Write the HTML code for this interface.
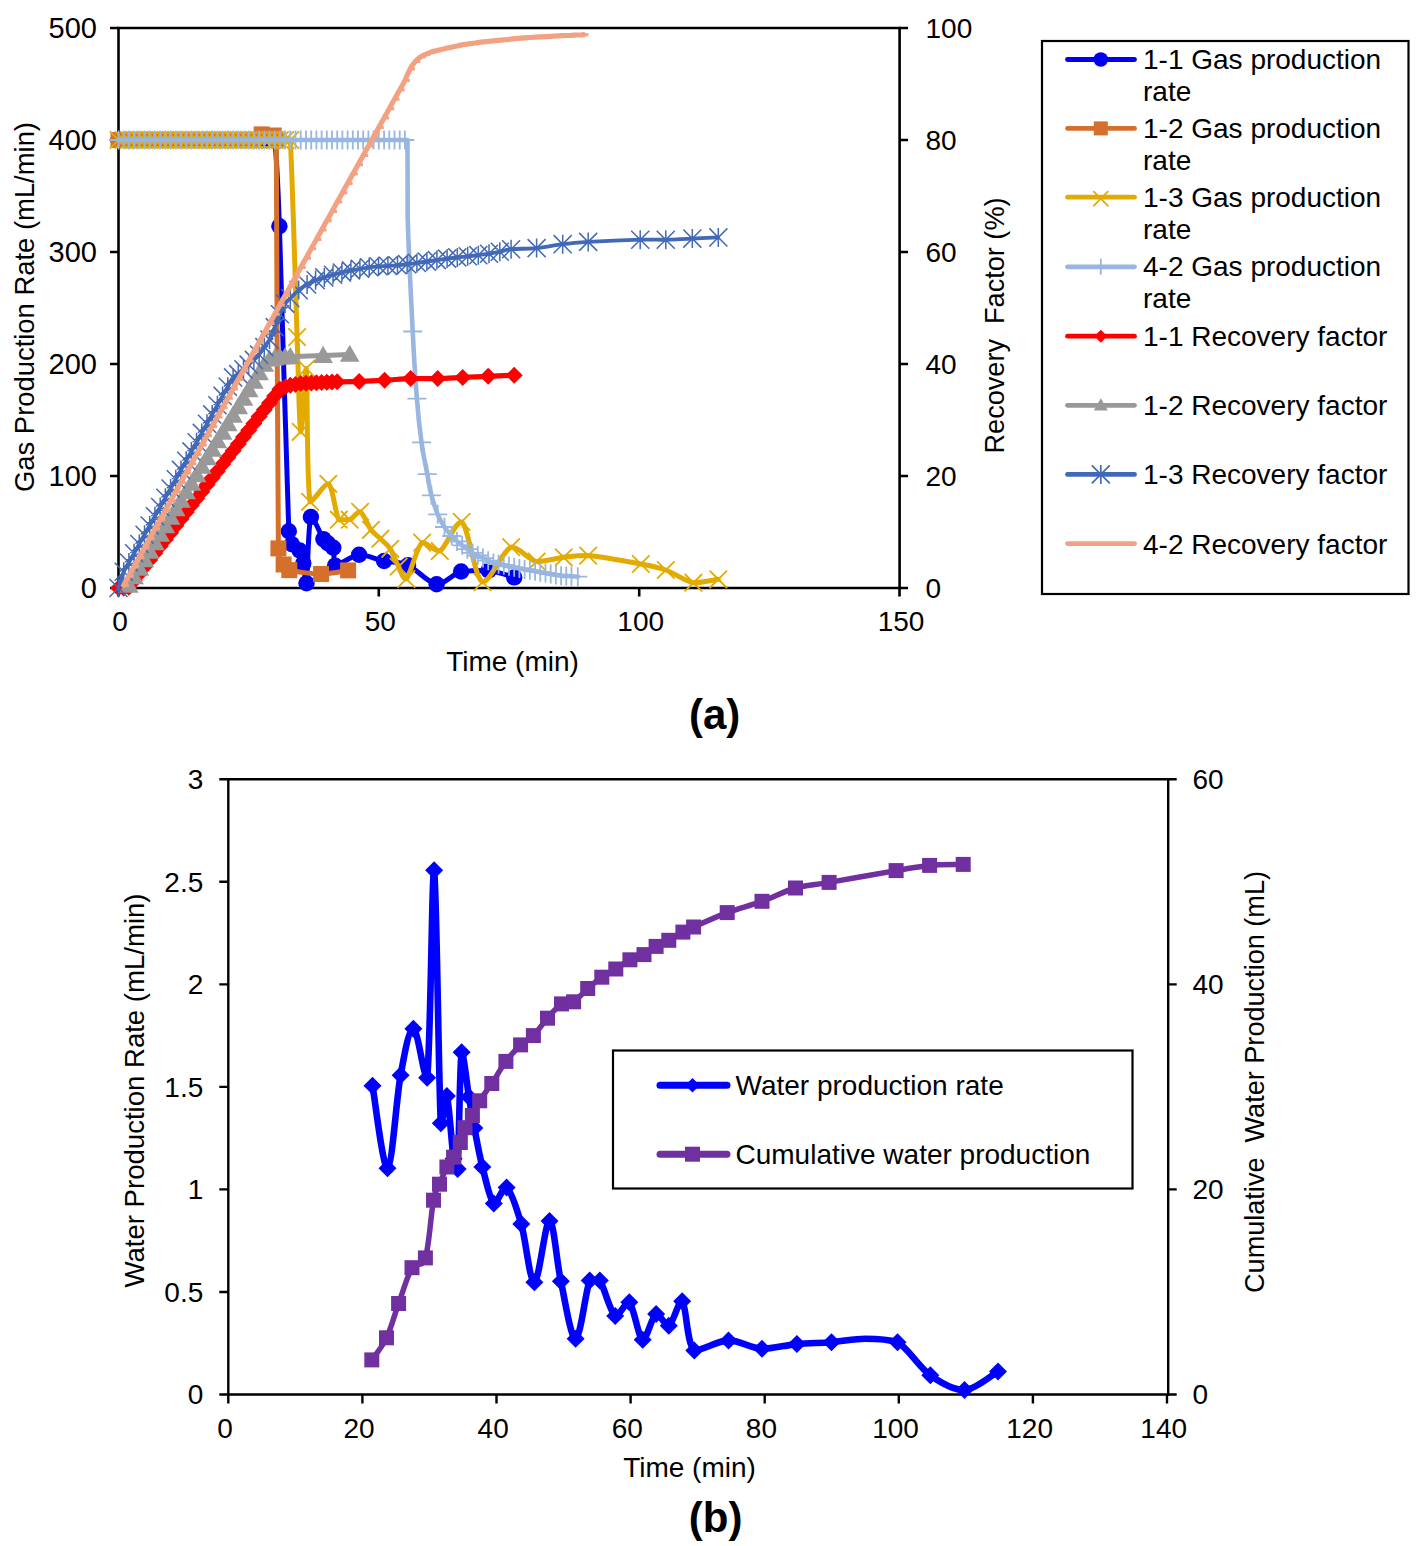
<!DOCTYPE html>
<html><head><meta charset="utf-8"><style>
html,body{margin:0;padding:0;background:#fff;}
body{width:1417px;height:1546px;position:relative;overflow:hidden;font-family:"Liberation Sans",sans-serif;}
svg text{white-space:pre;}
</style></head><body>
<svg width="1417" height="1546" viewBox="0 0 1417 1546" style="position:absolute;left:0;top:0">
<g stroke="#000" stroke-width="2.6" fill="none" stroke-linecap="butt">
<path d="M118.5 28.0H899.6V588.0H118.5Z"/>
<path d="M110 588H118.5M899.6 588H908.1M110 476H118.5M899.6 476H908.1M110 364H118.5M899.6 364H908.1M110 252H118.5M899.6 252H908.1M110 140H118.5M899.6 140H908.1M110 28H118.5M899.6 28H908.1M118.5 588V596.5M378.8 588V596.5M639.2 588V596.5M899.5 588V596.5"/>
</g>
<g stroke-linejoin="round" stroke-linecap="round" fill="none">
<path d="M118.5 140C119.4 140 122 140 123.7 140C125.4 140 127.2 140 128.9 140C130.6 140 132.4 140 134.1 140C135.9 140 137.6 140 139.3 140C141.1 140 142.8 140 144.5 140C146.3 140 148 140 149.7 140C151.5 140 153.2 140 154.9 140C156.7 140 158.4 140 160.2 140C161.9 140 163.6 140 165.4 140C167.1 140 168.8 140 170.6 140C172.3 140 174 140 175.8 140C177.5 140 179.2 140 181 140C182.7 140 184.5 140 186.2 140C187.9 140 189.7 140 191.4 140C193.1 140 194.9 140 196.6 140C198.3 140 200.1 140 201.8 140C203.5 140 205.3 140 207 140C208.8 140 210.5 140 212.2 140C214 140 215.7 140 217.4 140C219.2 140 220.9 140 222.6 140C224.4 140 226.1 140 227.8 140C229.6 140 231.3 140 233.1 140C234.8 140 236.5 140 238.3 140C240 140 241.7 140 243.5 140C245.2 140 246.9 140 248.7 140C250.4 140 252.1 140 253.9 140C255.6 140 257.4 140 259.1 140C260.8 140 262.6 140 264.3 140C266 140 267.8 140 269.5 140C271.2 140 273.1 140 274.7 140C276.4 154.4 277.1 161 279.4 226.2C281.7 291.5 286.7 478.3 288.8 531.3C290.9 544.3 290.1 541.1 291.9 544.3C293.7 547.5 297.8 547.3 299.7 550.5C301.6 553.7 302.2 557.9 303.3 563.4C304.5 568.8 305.2 583.2 306.5 583.2C307.7 575.5 308.1 524.3 310.9 517C313.7 517 320.6 534.7 323.4 539.1C326.2 543.2 326.2 541.8 327.8 543.2C329.5 544.6 332.1 543.9 333.3 547.7C334.5 551.4 333.3 564.4 335.1 565.6C339.4 565.6 350.9 555.6 359.1 554.8C367.2 554.8 375.9 559.3 384.1 561C392.2 562.7 399.2 561.3 408 565.2C416.8 569 427.8 583.1 436.6 584.2C445.5 584.2 452.4 573.8 461.1 571.5C469.8 570.4 479.9 570.4 488.7 570.4C497.6 571.4 510 576.2 514.2 577.4" stroke="#0000ee" stroke-width="5.0" fill="none"/>
<circle cx="118.5" cy="140" r="8.2" fill="#0000ee"/><circle cx="123.7" cy="140" r="8.2" fill="#0000ee"/><circle cx="128.9" cy="140" r="8.2" fill="#0000ee"/><circle cx="134.1" cy="140" r="8.2" fill="#0000ee"/><circle cx="139.3" cy="140" r="8.2" fill="#0000ee"/><circle cx="144.5" cy="140" r="8.2" fill="#0000ee"/><circle cx="149.7" cy="140" r="8.2" fill="#0000ee"/><circle cx="154.9" cy="140" r="8.2" fill="#0000ee"/><circle cx="160.2" cy="140" r="8.2" fill="#0000ee"/><circle cx="165.4" cy="140" r="8.2" fill="#0000ee"/><circle cx="170.6" cy="140" r="8.2" fill="#0000ee"/><circle cx="175.8" cy="140" r="8.2" fill="#0000ee"/><circle cx="181" cy="140" r="8.2" fill="#0000ee"/><circle cx="186.2" cy="140" r="8.2" fill="#0000ee"/><circle cx="191.4" cy="140" r="8.2" fill="#0000ee"/><circle cx="196.6" cy="140" r="8.2" fill="#0000ee"/><circle cx="201.8" cy="140" r="8.2" fill="#0000ee"/><circle cx="207" cy="140" r="8.2" fill="#0000ee"/><circle cx="212.2" cy="140" r="8.2" fill="#0000ee"/><circle cx="217.4" cy="140" r="8.2" fill="#0000ee"/><circle cx="222.6" cy="140" r="8.2" fill="#0000ee"/><circle cx="227.8" cy="140" r="8.2" fill="#0000ee"/><circle cx="233.1" cy="140" r="8.2" fill="#0000ee"/><circle cx="238.3" cy="140" r="8.2" fill="#0000ee"/><circle cx="243.5" cy="140" r="8.2" fill="#0000ee"/><circle cx="248.7" cy="140" r="8.2" fill="#0000ee"/><circle cx="253.9" cy="140" r="8.2" fill="#0000ee"/><circle cx="259.1" cy="140" r="8.2" fill="#0000ee"/><circle cx="264.3" cy="140" r="8.2" fill="#0000ee"/><circle cx="269.5" cy="140" r="8.2" fill="#0000ee"/><circle cx="274.7" cy="140" r="8.2" fill="#0000ee"/><circle cx="279.4" cy="226.2" r="8.2" fill="#0000ee"/><circle cx="288.8" cy="531.3" r="8.2" fill="#0000ee"/><circle cx="291.9" cy="544.3" r="8.2" fill="#0000ee"/><circle cx="299.7" cy="550.5" r="8.2" fill="#0000ee"/><circle cx="303.3" cy="563.4" r="8.2" fill="#0000ee"/><circle cx="306.5" cy="583.2" r="8.2" fill="#0000ee"/><circle cx="310.9" cy="517" r="8.2" fill="#0000ee"/><circle cx="323.4" cy="539.1" r="8.2" fill="#0000ee"/><circle cx="327.8" cy="543.2" r="8.2" fill="#0000ee"/><circle cx="333.3" cy="547.7" r="8.2" fill="#0000ee"/><circle cx="335.1" cy="565.6" r="8.2" fill="#0000ee"/><circle cx="359.1" cy="554.8" r="8.2" fill="#0000ee"/><circle cx="384.1" cy="561" r="8.2" fill="#0000ee"/><circle cx="408" cy="565.2" r="8.2" fill="#0000ee"/><circle cx="436.6" cy="584.2" r="8.2" fill="#0000ee"/><circle cx="461.1" cy="571.5" r="8.2" fill="#0000ee"/><circle cx="488.7" cy="570.4" r="8.2" fill="#0000ee"/><circle cx="514.2" cy="577.4" r="8.2" fill="#0000ee"/>
<path d="M118.5 140C119.4 140 122 140 123.7 140C125.4 140 127.2 140 128.9 140C130.6 140 132.4 140 134.1 140C135.9 140 137.6 140 139.3 140C141.1 140 142.8 140 144.5 140C146.3 140 148 140 149.7 140C151.5 140 153.2 140 154.9 140C156.7 140 158.4 140 160.2 140C161.9 140 163.6 140 165.4 140C167.1 140 168.8 140 170.6 140C172.3 140 174 140 175.8 140C177.5 140 179.2 140 181 140C182.7 140 184.5 140 186.2 140C187.9 140 189.7 140 191.4 140C193.1 140 194.9 140 196.6 140C198.3 140 200.1 140 201.8 140C203.5 140 205.3 140 207 140C208.8 140 210.5 140 212.2 140C214 140 215.7 140 217.4 140C219.2 140 220.9 140 222.6 140C224.4 140 226.1 140 227.8 140C229.6 140 231.3 140 233.1 140C234.8 140 236.5 140 238.3 140C240 140 241.7 140 243.5 140C245.2 140 246.9 140 248.7 140C250.4 140 251.7 140 253.9 140C256.1 139.1 258.4 135.1 261.7 134.4C265 134.4 271.2 134.6 273.7 135.5C276.1 136.5 275.5 135.5 276.3 140C277.1 208.8 277.1 477.6 278.4 548.4C279.6 564.5 281.7 560.9 283.6 564.5C285.4 568.1 283.6 568.5 289.3 570.1C295.5 571.7 311.2 573.9 321.1 574C330.9 574 343.6 571 348.1 570.4" stroke="#d5702c" stroke-width="5.0" fill="none"/>
<rect x="110.5" y="132" width="16" height="16" fill="#d5702c"/><rect x="115.7" y="132" width="16" height="16" fill="#d5702c"/><rect x="120.9" y="132" width="16" height="16" fill="#d5702c"/><rect x="126.1" y="132" width="16" height="16" fill="#d5702c"/><rect x="131.3" y="132" width="16" height="16" fill="#d5702c"/><rect x="136.5" y="132" width="16" height="16" fill="#d5702c"/><rect x="141.7" y="132" width="16" height="16" fill="#d5702c"/><rect x="146.9" y="132" width="16" height="16" fill="#d5702c"/><rect x="152.2" y="132" width="16" height="16" fill="#d5702c"/><rect x="157.4" y="132" width="16" height="16" fill="#d5702c"/><rect x="162.6" y="132" width="16" height="16" fill="#d5702c"/><rect x="167.8" y="132" width="16" height="16" fill="#d5702c"/><rect x="173" y="132" width="16" height="16" fill="#d5702c"/><rect x="178.2" y="132" width="16" height="16" fill="#d5702c"/><rect x="183.4" y="132" width="16" height="16" fill="#d5702c"/><rect x="188.6" y="132" width="16" height="16" fill="#d5702c"/><rect x="193.8" y="132" width="16" height="16" fill="#d5702c"/><rect x="199" y="132" width="16" height="16" fill="#d5702c"/><rect x="204.2" y="132" width="16" height="16" fill="#d5702c"/><rect x="209.4" y="132" width="16" height="16" fill="#d5702c"/><rect x="214.6" y="132" width="16" height="16" fill="#d5702c"/><rect x="219.8" y="132" width="16" height="16" fill="#d5702c"/><rect x="225.1" y="132" width="16" height="16" fill="#d5702c"/><rect x="230.3" y="132" width="16" height="16" fill="#d5702c"/><rect x="235.5" y="132" width="16" height="16" fill="#d5702c"/><rect x="240.7" y="132" width="16" height="16" fill="#d5702c"/><rect x="245.9" y="132" width="16" height="16" fill="#d5702c"/><rect x="253.7" y="126.4" width="16" height="16" fill="#d5702c"/><rect x="265.7" y="127.5" width="16" height="16" fill="#d5702c"/><rect x="268.3" y="132" width="16" height="16" fill="#d5702c"/><rect x="270.4" y="540.4" width="16" height="16" fill="#d5702c"/><rect x="275.6" y="556.5" width="16" height="16" fill="#d5702c"/><rect x="281.3" y="562.1" width="16" height="16" fill="#d5702c"/><rect x="313.1" y="566" width="16" height="16" fill="#d5702c"/><rect x="340.1" y="562.4" width="16" height="16" fill="#d5702c"/>
<path d="M118.5 140C119.4 140 122 140 123.7 140C125.4 140 127.2 140 128.9 140C130.6 140 132.4 140 134.1 140C135.9 140 137.6 140 139.3 140C141.1 140 142.8 140 144.5 140C146.3 140 148 140 149.7 140C151.5 140 153.2 140 154.9 140C156.7 140 158.4 140 160.2 140C161.9 140 163.6 140 165.4 140C167.1 140 168.8 140 170.6 140C172.3 140 174 140 175.8 140C177.5 140 179.2 140 181 140C182.7 140 184.5 140 186.2 140C187.9 140 189.7 140 191.4 140C193.1 140 194.9 140 196.6 140C198.3 140 200.1 140 201.8 140C203.5 140 205.3 140 207 140C208.8 140 210.5 140 212.2 140C214 140 215.7 140 217.4 140C219.2 140 220.9 140 222.6 140C224.4 140 226.1 140 227.8 140C229.6 140 231.3 140 233.1 140C234.8 140 236.5 140 238.3 140C240 140 241.7 140 243.5 140C245.2 140 246.9 140 248.7 140C250.4 140 252.1 140 253.9 140C255.6 140 257.4 140 259.1 140C260.8 140 262.6 140 264.3 140C266 140 267.8 140 269.5 140C271.2 140 273 140 274.7 140C276.4 140 278.2 140 279.9 140C281.7 140 283.4 140 285.1 140C286.9 140 288.3 140 290.3 140C292.3 172.9 295.4 288.5 297.1 337.1C298.8 385.7 299.2 426.5 300.7 431.8C302.3 431.8 304.7 368.5 306.2 368.5C307.8 380.1 306.4 482.5 310.1 501.8C313.8 501.8 323.6 483.8 328.3 483.8C333.1 486.8 335.2 513.7 338.8 519.7C342.3 519.7 346.1 519.7 349.7 519.7C353.2 518.4 356.5 511.8 360.1 511.8C363.7 513.5 367.7 525.3 371 529.8C374.4 534.2 377.2 535.5 380.4 538.7C383.6 541.9 387.3 544.1 390.3 548.8C393.3 553.5 395.9 561.7 398.6 566.7C401.3 571.8 402.5 579 406.4 579C410.4 575 416.5 547.3 422.1 542.6C427.6 542.6 433.2 551 439.8 551C446.4 547.6 454.5 521.9 461.6 521.9C468.8 527.1 474.2 577.9 482.5 582.1C490.7 582.1 502.1 550.6 511.1 547.1C520.1 547.1 527.9 559.8 536.6 561.5C545.4 561.5 555.1 558.3 563.7 557.3C572.3 556.3 575.3 555.6 588.2 555.6C601 556.8 627.8 561.6 640.8 564C653.7 566.4 657 566.9 665.8 570C674.5 573.1 684.6 581.2 693.4 582.7C702.1 582.7 714.2 579.8 718.3 579.3" stroke="#e3aa00" stroke-width="5.0" fill="none"/>
<path d="M110.3 131.8L126.7 148.2M110.3 148.2L126.7 131.8M115.5 131.8L131.9 148.2M115.5 148.2L131.9 131.8M120.7 131.8L137.1 148.2M120.7 148.2L137.1 131.8M125.9 131.8L142.3 148.2M125.9 148.2L142.3 131.8M131.1 131.8L147.5 148.2M131.1 148.2L147.5 131.8M136.3 131.8L152.7 148.2M136.3 148.2L152.7 131.8M141.5 131.8L157.9 148.2M141.5 148.2L157.9 131.8M146.7 131.8L163.1 148.2M146.7 148.2L163.1 131.8M152 131.8L168.4 148.2M152 148.2L168.4 131.8M157.2 131.8L173.6 148.2M157.2 148.2L173.6 131.8M162.4 131.8L178.8 148.2M162.4 148.2L178.8 131.8M167.6 131.8L184 148.2M167.6 148.2L184 131.8M172.8 131.8L189.2 148.2M172.8 148.2L189.2 131.8M178 131.8L194.4 148.2M178 148.2L194.4 131.8M183.2 131.8L199.6 148.2M183.2 148.2L199.6 131.8M188.4 131.8L204.8 148.2M188.4 148.2L204.8 131.8M193.6 131.8L210 148.2M193.6 148.2L210 131.8M198.8 131.8L215.2 148.2M198.8 148.2L215.2 131.8M204 131.8L220.4 148.2M204 148.2L220.4 131.8M209.2 131.8L225.6 148.2M209.2 148.2L225.6 131.8M214.4 131.8L230.8 148.2M214.4 148.2L230.8 131.8M219.6 131.8L236 148.2M219.6 148.2L236 131.8M224.9 131.8L241.3 148.2M224.9 148.2L241.3 131.8M230.1 131.8L246.5 148.2M230.1 148.2L246.5 131.8M235.3 131.8L251.7 148.2M235.3 148.2L251.7 131.8M240.5 131.8L256.9 148.2M240.5 148.2L256.9 131.8M245.7 131.8L262.1 148.2M245.7 148.2L262.1 131.8M250.9 131.8L267.3 148.2M250.9 148.2L267.3 131.8M256.1 131.8L272.5 148.2M256.1 148.2L272.5 131.8M261.3 131.8L277.7 148.2M261.3 148.2L277.7 131.8M266.5 131.8L282.9 148.2M266.5 148.2L282.9 131.8M271.7 131.8L288.1 148.2M271.7 148.2L288.1 131.8M276.9 131.8L293.3 148.2M276.9 148.2L293.3 131.8M282.1 131.8L298.5 148.2M282.1 148.2L298.5 131.8M288.9 328.9L305.3 345.3M288.9 345.3L305.3 328.9M292.5 423.6L308.9 440M292.5 440L308.9 423.6M298 360.3L314.4 376.7M298 376.7L314.4 360.3M301.9 493.6L318.3 510M301.9 510L318.3 493.6M320.1 475.6L336.5 492M320.1 492L336.5 475.6M330.6 511.5L347 527.9M330.6 527.9L347 511.5M341.5 511.5L357.9 527.9M341.5 527.9L357.9 511.5M351.9 503.6L368.3 520M351.9 520L368.3 503.6M362.8 521.6L379.2 538M362.8 538L379.2 521.6M372.2 530.5L388.6 546.9M372.2 546.9L388.6 530.5M382.1 540.6L398.5 557M382.1 557L398.5 540.6M390.4 558.5L406.8 574.9M390.4 574.9L406.8 558.5M398.2 570.8L414.6 587.2M398.2 587.2L414.6 570.8M413.9 534.4L430.3 550.8M413.9 550.8L430.3 534.4M431.6 542.8L448 559.2M431.6 559.2L448 542.8M453.4 513.7L469.8 530.1M453.4 530.1L469.8 513.7M474.3 573.9L490.7 590.3M474.3 590.3L490.7 573.9M502.9 538.9L519.3 555.3M502.9 555.3L519.3 538.9M528.4 553.3L544.8 569.7M528.4 569.7L544.8 553.3M555.5 549.1L571.9 565.5M555.5 565.5L571.9 549.1M580 547.4L596.4 563.8M580 563.8L596.4 547.4M632.6 555.8L649 572.2M632.6 572.2L649 555.8M657.6 561.8L674 578.2M657.6 578.2L674 561.8M685.2 574.5L701.6 590.9M685.2 590.9L701.6 574.5M710.1 571.1L726.5 587.5M710.1 587.5L726.5 571.1" stroke="#e3aa00" stroke-width="1.8" fill="none"/>
<path d="M118.5 140C119.4 140 122 140 123.7 140C125.4 140 127.2 140 128.9 140C130.6 140 132.4 140 134.1 140C135.9 140 137.6 140 139.3 140C141.1 140 142.8 140 144.5 140C146.3 140 148 140 149.7 140C151.5 140 153.2 140 154.9 140C156.7 140 158.4 140 160.2 140C161.9 140 163.6 140 165.4 140C167.1 140 168.8 140 170.6 140C172.3 140 174 140 175.8 140C177.5 140 179.2 140 181 140C182.7 140 184.5 140 186.2 140C187.9 140 189.7 140 191.4 140C193.1 140 194.9 140 196.6 140C198.3 140 200.1 140 201.8 140C203.5 140 205.3 140 207 140C208.8 140 210.5 140 212.2 140C214 140 215.7 140 217.4 140C219.2 140 220.9 140 222.6 140C224.4 140 226.1 140 227.8 140C229.6 140 231.3 140 233.1 140C234.8 140 236.5 140 238.3 140C240 140 241.7 140 243.5 140C245.2 140 246.9 140 248.7 140C250.4 140 252.1 140 253.9 140C255.6 140 257.4 140 259.1 140C260.8 140 262.6 140 264.3 140C266 140 267.8 140 269.5 140C271.2 140 273 140 274.7 140C276.4 140 278.2 140 279.9 140C281.7 140 283.4 140 285.1 140C286.9 140 288.6 140 290.3 140C292.1 140 293.8 140 295.5 140C297.3 140 299 140 300.7 140C302.5 140 304.2 140 306 140C307.7 140 309.4 140 311.2 140C312.9 140 314.6 140 316.4 140C318.1 140 319.8 140 321.6 140C323.3 140 325 140 326.8 140C328.5 140 330.3 140 332 140C333.7 140 335.5 140 337.2 140C338.9 140 340.7 140 342.4 140C344.1 140 345.9 140 347.6 140C349.3 140 351.1 140 352.8 140C354.6 140 356.3 140 358 140C359.8 140 361.5 140 363.2 140C365 140 366.7 140 368.4 140C370.2 140 371.9 140 373.6 140C375.4 140 377.1 140 378.8 140C380.6 140 382.3 140 384.1 140C385.8 140 387.5 140 389.3 140C391 140 392.7 140 394.5 140C396.2 140 397.9 140 399.7 140C401.4 140 403.6 140 404.9 140C406.2 140 407 140 407.5 140C407.7 153.1 407.5 186.5 407.7 218.4C408.6 250.3 411.2 301.5 412.7 331.5C414.2 361.6 415.4 380.2 416.9 398.7C418.3 417.2 419.8 429.8 421.5 442.4C423.3 455 425.6 465.3 427.3 474.1C428.9 482.9 429.7 488.6 431.4 495.3C433.2 502 435.5 509 437.7 514.3C439.9 519.6 442.1 523.3 444.5 527C446.8 530.6 449.7 533.6 451.7 536C453.8 538.4 455.2 539.8 457 541.4C458.7 543 460.4 544 462.2 545.3C463.9 546.6 465.6 548 467.4 549.2C469.1 550.5 470.8 551.9 472.6 552.9C474.3 553.9 476 554.6 477.8 555.5C479.5 556.4 481.3 557.2 483 558.1C484.7 559 486.5 559.8 488.2 560.7C489.9 561.5 491.7 562.5 493.4 563.1C495.1 563.7 496.9 563.8 498.6 564.2C500.3 564.5 502.1 564.9 503.8 565.2C505.6 565.6 507.3 565.9 509 566.3C510.8 566.6 512.5 567 514.2 567.3C516 567.7 517.7 568 519.4 568.4C521.2 568.7 522.9 569.1 524.6 569.4C526.4 569.7 528.1 570 529.9 570.3C531.6 570.6 533.3 570.9 535.1 571.3C536.8 571.6 538.5 571.9 540.3 572.2C542 572.5 543.7 572.8 545.5 573.1C547.2 573.4 548.9 573.7 550.7 574C552.4 574.3 554.2 574.7 555.9 574.9C557.6 575.2 559.4 575.6 561.1 575.7C562.8 575.9 564.6 575.9 566.3 576C568 576.1 569.6 576.2 571.5 576.3C573.4 576.4 576.7 576.6 577.8 576.7" stroke="#98b6e0" stroke-width="4.6" fill="none"/>
<path d="M109 140L128 140M118.5 130.5L118.5 149.5M114.2 140L133.2 140M123.7 130.5L123.7 149.5M119.4 140L138.4 140M128.9 130.5L128.9 149.5M124.6 140L143.6 140M134.1 130.5L134.1 149.5M129.8 140L148.8 140M139.3 130.5L139.3 149.5M135 140L154 140M144.5 130.5L144.5 149.5M140.2 140L159.2 140M149.7 130.5L149.7 149.5M145.4 140L164.4 140M154.9 130.5L154.9 149.5M150.7 140L169.7 140M160.2 130.5L160.2 149.5M155.9 140L174.9 140M165.4 130.5L165.4 149.5M161.1 140L180.1 140M170.6 130.5L170.6 149.5M166.3 140L185.3 140M175.8 130.5L175.8 149.5M171.5 140L190.5 140M181 130.5L181 149.5M176.7 140L195.7 140M186.2 130.5L186.2 149.5M181.9 140L200.9 140M191.4 130.5L191.4 149.5M187.1 140L206.1 140M196.6 130.5L196.6 149.5M192.3 140L211.3 140M201.8 130.5L201.8 149.5M197.5 140L216.5 140M207 130.5L207 149.5M202.7 140L221.7 140M212.2 130.5L212.2 149.5M207.9 140L226.9 140M217.4 130.5L217.4 149.5M213.1 140L232.1 140M222.6 130.5L222.6 149.5M218.3 140L237.3 140M227.8 130.5L227.8 149.5M223.6 140L242.6 140M233.1 130.5L233.1 149.5M228.8 140L247.8 140M238.3 130.5L238.3 149.5M234 140L253 140M243.5 130.5L243.5 149.5M239.2 140L258.2 140M248.7 130.5L248.7 149.5M244.4 140L263.4 140M253.9 130.5L253.9 149.5M249.6 140L268.6 140M259.1 130.5L259.1 149.5M254.8 140L273.8 140M264.3 130.5L264.3 149.5M260 140L279 140M269.5 130.5L269.5 149.5M265.2 140L284.2 140M274.7 130.5L274.7 149.5M270.4 140L289.4 140M279.9 130.5L279.9 149.5M275.6 140L294.6 140M285.1 130.5L285.1 149.5M280.8 140L299.8 140M290.3 130.5L290.3 149.5M286 140L305 140M295.5 130.5L295.5 149.5M291.2 140L310.2 140M300.7 130.5L300.7 149.5M296.5 140L315.5 140M306 130.5L306 149.5M301.7 140L320.7 140M311.2 130.5L311.2 149.5M306.9 140L325.9 140M316.4 130.5L316.4 149.5M312.1 140L331.1 140M321.6 130.5L321.6 149.5M317.3 140L336.3 140M326.8 130.5L326.8 149.5M322.5 140L341.5 140M332 130.5L332 149.5M327.7 140L346.7 140M337.2 130.5L337.2 149.5M332.9 140L351.9 140M342.4 130.5L342.4 149.5M338.1 140L357.1 140M347.6 130.5L347.6 149.5M343.3 140L362.3 140M352.8 130.5L352.8 149.5M348.5 140L367.5 140M358 130.5L358 149.5M353.7 140L372.7 140M363.2 130.5L363.2 149.5M358.9 140L377.9 140M368.4 130.5L368.4 149.5M364.1 140L383.1 140M373.6 130.5L373.6 149.5M369.3 140L388.3 140M378.8 130.5L378.8 149.5M374.6 140L393.6 140M384.1 130.5L384.1 149.5M379.8 140L398.8 140M389.3 130.5L389.3 149.5M385 140L404 140M394.5 130.5L394.5 149.5M390.2 140L409.2 140M399.7 130.5L399.7 149.5M395.4 140L414.4 140M404.9 130.5L404.9 149.5M403.2 331.5L422.2 331.5M412.7 322L412.7 341M407.4 398.7L426.4 398.7M416.9 389.2L416.9 408.2M412 442.4L431 442.4M421.5 432.9L421.5 451.9M417.8 474.1L436.8 474.1M427.3 464.6L427.3 483.6M421.9 495.3L440.9 495.3M431.4 485.8L431.4 504.8M428.2 514.3L447.2 514.3M437.7 504.8L437.7 523.8M435 527L454 527M444.5 517.5L444.5 536.5M442.2 536L461.2 536M451.7 526.5L451.7 545.5M447.5 541.4L466.5 541.4M457 531.9L457 550.9M452.7 545.3L471.7 545.3M462.2 535.8L462.2 554.8M457.9 549.2L476.9 549.2M467.4 539.7L467.4 558.7M463.1 552.9L482.1 552.9M472.6 543.4L472.6 562.4M468.3 555.5L487.3 555.5M477.8 546L477.8 565M473.5 558.1L492.5 558.1M483 548.6L483 567.6M478.7 560.7L497.7 560.7M488.2 551.2L488.2 570.2M483.9 563.1L502.9 563.1M493.4 553.6L493.4 572.6M489.1 564.2L508.1 564.2M498.6 554.7L498.6 573.7M494.3 565.2L513.3 565.2M503.8 555.7L503.8 574.7M499.5 566.3L518.5 566.3M509 556.8L509 575.8M504.7 567.3L523.7 567.3M514.2 557.8L514.2 576.8M509.9 568.4L528.9 568.4M519.4 558.9L519.4 577.9M515.1 569.4L534.1 569.4M524.6 559.9L524.6 578.9M520.4 570.3L539.4 570.3M529.9 560.8L529.9 579.8M525.6 571.3L544.6 571.3M535.1 561.8L535.1 580.8M530.8 572.2L549.8 572.2M540.3 562.7L540.3 581.7M536 573.1L555 573.1M545.5 563.6L545.5 582.6M541.2 574L560.2 574M550.7 564.5L550.7 583.5M546.4 574.9L565.4 574.9M555.9 565.4L555.9 584.4M551.6 575.7L570.6 575.7M561.1 566.2L561.1 585.2M556.8 576L575.8 576M566.3 566.5L566.3 585.5M562 576.3L581 576.3M571.5 566.8L571.5 585.8M568.3 576.7L587.3 576.7M577.8 567.2L577.8 586.2" stroke="#98b6e0" stroke-width="1.8" fill="none" stroke-linecap="butt"/>
<path d="M118.5 588C119.4 588 122 588.1 123.7 588C125.4 587.9 127.2 588.6 128.9 587.3C130.6 586.1 132.4 582.8 134.1 580.5C135.9 578.2 137.6 575.9 139.3 573.7C141.1 571.4 142.8 569.1 144.5 566.8C146.3 564.5 148 562.3 149.7 560C151.5 557.7 153.2 555.4 154.9 553.2C156.7 550.9 158.4 548.6 160.2 546.3C161.9 544 163.6 541.8 165.4 539.5C167.1 537.2 168.8 534.9 170.6 532.7C172.3 530.4 174 528.1 175.8 525.8C177.5 523.6 179.2 521.3 181 519C182.7 516.7 184.5 514.4 186.2 512.2C187.9 509.9 189.7 507.6 191.4 505.3C193.1 503.1 194.9 500.8 196.6 498.5C198.3 496.2 200.1 494 201.8 491.7C203.5 489.4 205.3 487.1 207 484.8C208.8 482.6 210.5 480.3 212.2 478C214 475.7 215.7 473.5 217.4 471.2C219.2 468.9 220.9 466.6 222.6 464.3C224.4 462.1 226.1 459.8 227.8 457.5C229.6 455.2 231.3 453 233.1 450.7C234.8 448.4 236.5 446.1 238.3 443.9C240 441.6 241.7 439.3 243.5 437C245.2 434.7 246.9 432.5 248.7 430.2C250.4 427.9 252.1 425.6 253.9 423.4C255.6 421.1 257.4 418.8 259.1 416.5C260.8 414.2 262.6 412 264.3 409.7C266 407.4 267.8 405.1 269.5 402.9C271.2 400.6 273 398.3 274.7 396C276.4 393.8 278.2 390.7 279.9 389.2C281.7 387.7 283.4 387.6 285.1 387C286.9 386.3 288.6 385.7 290.3 385.3C292.1 384.9 293.8 384.7 295.5 384.4C297.3 384.2 299 383.8 300.7 383.6C302.5 383.4 304.2 383.4 306 383.3C307.7 383.2 309.4 383.1 311.2 383C312.9 382.9 314.6 382.9 316.4 382.8C318.1 382.7 319.8 382.6 321.6 382.5C323.3 382.4 325 382.3 326.8 382.2C328.5 382.1 330.3 382 332 381.9C333.7 381.9 332.7 381.9 337.2 381.8C341.7 381.7 351.2 381.6 359.1 381.4C367 381.1 376 380.7 384.6 380.2C393.2 379.8 401.8 378.8 410.6 378.6C419.5 378.3 429 378.7 437.7 378.6C446.4 378.4 454.3 377.8 462.7 377.4C471.1 377.1 479.6 376.7 488.2 376.3C496.8 375.9 509.9 375.4 514.2 375.2" stroke="#ff0000" stroke-width="5.2" fill="none"/>
<path d="M118.5 579.5L127 588L118.5 596.5L110 588Z" fill="#ff0000"/><path d="M123.7 579.5L132.2 588L123.7 596.5L115.2 588Z" fill="#ff0000"/><path d="M128.9 578.8L137.4 587.3L128.9 595.8L120.4 587.3Z" fill="#ff0000"/><path d="M134.1 572L142.6 580.5L134.1 589L125.6 580.5Z" fill="#ff0000"/><path d="M139.3 565.2L147.8 573.7L139.3 582.2L130.8 573.7Z" fill="#ff0000"/><path d="M144.5 558.3L153 566.8L144.5 575.3L136 566.8Z" fill="#ff0000"/><path d="M149.7 551.5L158.2 560L149.7 568.5L141.2 560Z" fill="#ff0000"/><path d="M154.9 544.7L163.4 553.2L154.9 561.7L146.4 553.2Z" fill="#ff0000"/><path d="M160.2 537.8L168.7 546.3L160.2 554.8L151.7 546.3Z" fill="#ff0000"/><path d="M165.4 531L173.9 539.5L165.4 548L156.9 539.5Z" fill="#ff0000"/><path d="M170.6 524.2L179.1 532.7L170.6 541.2L162.1 532.7Z" fill="#ff0000"/><path d="M175.8 517.3L184.3 525.8L175.8 534.3L167.3 525.8Z" fill="#ff0000"/><path d="M181 510.5L189.5 519L181 527.5L172.5 519Z" fill="#ff0000"/><path d="M186.2 503.7L194.7 512.2L186.2 520.7L177.7 512.2Z" fill="#ff0000"/><path d="M191.4 496.8L199.9 505.3L191.4 513.8L182.9 505.3Z" fill="#ff0000"/><path d="M196.6 490L205.1 498.5L196.6 507L188.1 498.5Z" fill="#ff0000"/><path d="M201.8 483.2L210.3 491.7L201.8 500.2L193.3 491.7Z" fill="#ff0000"/><path d="M207 476.3L215.5 484.8L207 493.3L198.5 484.8Z" fill="#ff0000"/><path d="M212.2 469.5L220.7 478L212.2 486.5L203.7 478Z" fill="#ff0000"/><path d="M217.4 462.7L225.9 471.2L217.4 479.7L208.9 471.2Z" fill="#ff0000"/><path d="M222.6 455.8L231.1 464.3L222.6 472.8L214.1 464.3Z" fill="#ff0000"/><path d="M227.8 449L236.3 457.5L227.8 466L219.3 457.5Z" fill="#ff0000"/><path d="M233.1 442.2L241.6 450.7L233.1 459.2L224.6 450.7Z" fill="#ff0000"/><path d="M238.3 435.4L246.8 443.9L238.3 452.4L229.8 443.9Z" fill="#ff0000"/><path d="M243.5 428.5L252 437L243.5 445.5L235 437Z" fill="#ff0000"/><path d="M248.7 421.7L257.2 430.2L248.7 438.7L240.2 430.2Z" fill="#ff0000"/><path d="M253.9 414.9L262.4 423.4L253.9 431.9L245.4 423.4Z" fill="#ff0000"/><path d="M259.1 408L267.6 416.5L259.1 425L250.6 416.5Z" fill="#ff0000"/><path d="M264.3 401.2L272.8 409.7L264.3 418.2L255.8 409.7Z" fill="#ff0000"/><path d="M269.5 394.4L278 402.9L269.5 411.4L261 402.9Z" fill="#ff0000"/><path d="M274.7 387.5L283.2 396L274.7 404.5L266.2 396Z" fill="#ff0000"/><path d="M279.9 380.7L288.4 389.2L279.9 397.7L271.4 389.2Z" fill="#ff0000"/><path d="M285.1 378.5L293.6 387L285.1 395.5L276.6 387Z" fill="#ff0000"/><path d="M290.3 376.8L298.8 385.3L290.3 393.8L281.8 385.3Z" fill="#ff0000"/><path d="M295.5 375.9L304 384.4L295.5 392.9L287 384.4Z" fill="#ff0000"/><path d="M300.7 375.1L309.2 383.6L300.7 392.1L292.2 383.6Z" fill="#ff0000"/><path d="M306 374.8L314.5 383.3L306 391.8L297.5 383.3Z" fill="#ff0000"/><path d="M311.2 374.5L319.7 383L311.2 391.5L302.7 383Z" fill="#ff0000"/><path d="M316.4 374.3L324.9 382.8L316.4 391.3L307.9 382.8Z" fill="#ff0000"/><path d="M321.6 374L330.1 382.5L321.6 391L313.1 382.5Z" fill="#ff0000"/><path d="M326.8 373.7L335.3 382.2L326.8 390.7L318.3 382.2Z" fill="#ff0000"/><path d="M332 373.4L340.5 381.9L332 390.4L323.5 381.9Z" fill="#ff0000"/><path d="M337.2 373.3L345.7 381.8L337.2 390.3L328.7 381.8Z" fill="#ff0000"/><path d="M359.1 372.9L367.6 381.4L359.1 389.9L350.6 381.4Z" fill="#ff0000"/><path d="M384.6 371.7L393.1 380.2L384.6 388.7L376.1 380.2Z" fill="#ff0000"/><path d="M410.6 370.1L419.1 378.6L410.6 387.1L402.1 378.6Z" fill="#ff0000"/><path d="M437.7 370.1L446.2 378.6L437.7 387.1L429.2 378.6Z" fill="#ff0000"/><path d="M462.7 368.9L471.2 377.4L462.7 385.9L454.2 377.4Z" fill="#ff0000"/><path d="M488.2 367.8L496.7 376.3L488.2 384.8L479.7 376.3Z" fill="#ff0000"/><path d="M514.2 366.7L522.7 375.2L514.2 383.7L505.7 375.2Z" fill="#ff0000"/>
<path d="M128.9 585.4C129.8 584 132.4 579.8 134.1 576.9C135.9 574.1 137.6 571.3 139.3 568.4C141.1 565.6 142.8 562.8 144.5 559.9C146.3 557.1 148 554.3 149.7 551.4C151.5 548.6 153.2 545.8 154.9 542.9C156.7 540.1 158.4 537.3 160.2 534.4C161.9 531.6 163.6 528.8 165.4 525.9C167.1 523.1 168.8 520.2 170.6 517.4C172.3 514.6 174 511.7 175.8 508.9C177.5 506.1 179.2 503.2 181 500.4C182.7 497.6 184.5 494.7 186.2 491.9C187.9 489.1 189.7 486.2 191.4 483.4C193.1 480.6 194.9 477.7 196.6 474.9C198.3 472.1 200.1 469.2 201.8 466.4C203.5 463.6 205.3 460.7 207 457.9C208.8 455 210.5 452.2 212.2 449.4C214 446.5 215.7 443.7 217.4 440.9C219.2 438 220.9 435.2 222.6 432.4C224.4 429.5 226.1 426.7 227.8 423.9C229.6 421 231.3 418.2 233.1 415.4C234.8 412.5 236.5 409.7 238.3 406.9C240 404 241.7 401.2 243.5 398.4C245.2 395.5 246.9 392.7 248.7 389.8C250.4 387 252.1 384.2 253.9 381.3C255.6 378.5 257.4 375.7 259.1 372.8C260.8 370 262.6 366.6 264.3 364.3C266 362.1 267.8 360.3 269.5 359.2C271.2 358.2 273 358.4 274.7 358C276.4 357.7 278.2 357.5 279.9 357.3C281.7 357.1 283.4 357.1 285.1 357C286.9 356.9 284 357 290.3 356.7C296.7 356.5 313.2 356 323.1 355.6C333 355.2 345.3 354.7 349.7 354.5" stroke="#999999" stroke-width="5.0" fill="none"/>
<path d="M128.9 575.6L138.7 592.8L119.1 592.8Z" fill="#999999"/><path d="M134.1 567.1L143.9 584.3L124.3 584.3Z" fill="#999999"/><path d="M139.3 558.6L149.1 575.8L129.5 575.8Z" fill="#999999"/><path d="M144.5 550.1L154.3 567.3L134.7 567.3Z" fill="#999999"/><path d="M149.7 541.6L159.5 558.8L139.9 558.8Z" fill="#999999"/><path d="M154.9 533.1L164.7 550.3L145.1 550.3Z" fill="#999999"/><path d="M160.2 524.6L170 541.8L150.4 541.8Z" fill="#999999"/><path d="M165.4 516.1L175.2 533.3L155.6 533.3Z" fill="#999999"/><path d="M170.6 507.6L180.4 524.8L160.8 524.8Z" fill="#999999"/><path d="M175.8 499.1L185.6 516.3L166 516.3Z" fill="#999999"/><path d="M181 490.6L190.8 507.8L171.2 507.8Z" fill="#999999"/><path d="M186.2 482.1L196 499.2L176.4 499.2Z" fill="#999999"/><path d="M191.4 473.6L201.2 490.7L181.6 490.7Z" fill="#999999"/><path d="M196.6 465.1L206.4 482.2L186.8 482.2Z" fill="#999999"/><path d="M201.8 456.6L211.6 473.7L192 473.7Z" fill="#999999"/><path d="M207 448.1L216.8 465.2L197.2 465.2Z" fill="#999999"/><path d="M212.2 439.6L222 456.7L202.4 456.7Z" fill="#999999"/><path d="M217.4 431.1L227.2 448.2L207.6 448.2Z" fill="#999999"/><path d="M222.6 422.6L232.4 439.7L212.8 439.7Z" fill="#999999"/><path d="M227.8 414.1L237.6 431.2L218 431.2Z" fill="#999999"/><path d="M233.1 405.6L242.9 422.7L223.3 422.7Z" fill="#999999"/><path d="M238.3 397.1L248.1 414.2L228.5 414.2Z" fill="#999999"/><path d="M243.5 388.6L253.3 405.7L233.7 405.7Z" fill="#999999"/><path d="M248.7 380L258.5 397.2L238.9 397.2Z" fill="#999999"/><path d="M253.9 371.5L263.7 388.7L244.1 388.7Z" fill="#999999"/><path d="M259.1 363L268.9 380.2L249.3 380.2Z" fill="#999999"/><path d="M264.3 354.5L274.1 371.7L254.5 371.7Z" fill="#999999"/><path d="M269.5 349.4L279.3 366.6L259.7 366.6Z" fill="#999999"/><path d="M274.7 348.2L284.5 365.4L264.9 365.4Z" fill="#999999"/><path d="M279.9 347.5L289.7 364.6L270.1 364.6Z" fill="#999999"/><path d="M285.1 347.2L294.9 364.4L275.3 364.4Z" fill="#999999"/><path d="M290.3 346.9L300.1 364.1L280.5 364.1Z" fill="#999999"/><path d="M323.1 345.8L332.9 363L313.3 363Z" fill="#999999"/><path d="M349.7 344.7L359.5 361.8L339.9 361.8Z" fill="#999999"/>
<path d="M118.5 588C119.4 585.3 122 576 123.7 571.8C125.4 567.5 127.2 565.6 128.9 562.5C130.6 559.4 132.4 556.3 134.1 553.3C135.9 550.2 137.6 547.1 139.3 544C141.1 540.9 142.8 537.8 144.5 534.7C146.3 531.7 148 528.6 149.7 525.5C151.5 522.4 153.2 519.3 154.9 516.2C156.7 513.2 158.4 510.1 160.2 507C161.9 503.9 163.6 500.8 165.4 497.7C167.1 494.6 168.8 491.6 170.6 488.5C172.3 485.4 174 482.3 175.8 479.2C177.5 476.1 179.2 473.1 181 470C182.7 466.9 184.5 463.8 186.2 460.7C187.9 457.6 189.7 454.6 191.4 451.5C193.1 448.4 194.9 445.3 196.6 442.2C198.3 439.1 200.1 436 201.8 433C203.5 429.9 205.3 426.8 207 423.7C208.8 420.6 210.5 417.5 212.2 414.5C214 411.4 215.7 408.3 217.4 405.2C219.2 402.1 220.9 399 222.6 395.9C224.4 392.9 226.1 389.8 227.8 386.7C229.6 383.6 231.3 379.5 233.1 377.4C234.8 375.3 236.5 375.4 238.3 374.1C240 372.7 241.7 370.9 243.5 369.4C245.2 367.8 246.9 366.2 248.7 364.6C250.4 363.1 252.1 361.6 253.9 359.9C255.6 358.3 257.4 356.8 259.1 354.7C260.8 352.5 262.6 349.6 264.3 347.1C266 344.6 267.8 342.9 269.5 339.6C271.2 336.2 273 331.4 274.7 327.2C276.4 323 278.2 318.2 279.9 314.2C281.7 310.3 283.4 306.3 285.1 303.6C286.9 300.9 288.1 300.4 290.3 298.2C292.6 296 295.9 292.4 298.7 290.1C301.5 287.8 304.3 286.1 307.1 284.4C309.9 282.8 312.8 281.4 315.6 280.2C318.5 279.1 321.4 278.4 324.3 277.4C327.2 276.5 330.1 275.5 333 274.7C336 273.9 339 273.3 341.9 272.6C344.9 271.8 347.9 271 350.9 270.4C353.9 269.8 356.9 269.3 359.9 268.8C363 268.3 366.1 267.7 369.2 267.3C372.3 266.9 375.4 266.6 378.5 266.3C381.6 266.1 384.7 266 387.9 265.8C391.1 265.7 394.3 265.6 397.5 265.3C400.7 265 403.9 264.5 407.1 264.2C410.4 263.8 413.6 263.4 416.9 263C420.2 262.5 423.5 262 426.9 261.5C430.2 261 433.5 260.6 436.9 260.1C440.3 259.6 443.7 259.1 447.1 258.6C450.5 258.2 453.9 257.8 457.3 257.4C460.8 257 464.2 256.7 467.7 256.3C471.2 255.9 474.8 255.6 478.3 255.2C481.8 254.7 485.4 254.3 489 253.7C492.6 253.1 496.1 252.5 499.8 251.7C503.5 250.9 505 249.8 511.1 249.2C517.2 248.6 528 248.9 536.6 248.1C545.2 247.2 554.1 245.2 562.7 244.2C571.2 243.1 575.2 242.7 588.2 241.9C601.1 241.2 627.3 240.1 640.2 239.7C653.2 239.3 657.1 239.9 665.8 239.7C674.4 239.5 683.5 238.9 692.3 238.6C701.1 238.2 714 237.6 718.3 237.4" stroke="#4169b8" stroke-width="3.8" fill="none"/>
<path d="M109.5 579L127.5 597M109.5 597L127.5 579M118.5 578.5L118.5 597.5M114.7 562.7L132.7 580.8M114.7 580.8L132.7 562.7M123.7 562.3L123.7 581.3M119.9 553.5L137.9 571.5M119.9 571.5L137.9 553.5M128.9 553L128.9 572M125.1 544.2L143.1 562.3M125.1 562.3L143.1 544.2M134.1 543.8L134.1 562.8M130.3 535L148.4 553M130.3 553L148.4 535M139.3 534.5L139.3 553.5M135.5 525.7L153.6 543.8M135.5 543.8L153.6 525.7M144.5 525.2L144.5 544.2M140.7 516.5L158.8 534.5M140.7 534.5L158.8 516.5M149.7 516L149.7 535M145.9 507.2L164 525.3M145.9 525.3L164 507.2M154.9 506.7L154.9 525.7M151.1 498L169.2 516M151.1 516L169.2 498M160.2 497.5L160.2 516.5M156.3 488.7L174.4 506.8M156.3 506.8L174.4 488.7M165.4 488.2L165.4 507.2M161.5 479.5L179.6 497.5M161.5 497.5L179.6 479.5M170.6 479L170.6 498M166.8 470.2L184.8 488.3M166.8 488.3L184.8 470.2M175.8 469.7L175.8 488.7M172 460.9L190 479M172 479L190 460.9M181 460.5L181 479.5M177.2 451.7L195.2 469.7M177.2 469.7L195.2 451.7M186.2 451.2L186.2 470.2M182.4 442.4L200.4 460.5M182.4 460.5L200.4 442.4M191.4 442L191.4 461M187.6 433.2L205.6 451.2M187.6 451.2L205.6 433.2M196.6 432.7L196.6 451.7M192.8 423.9L210.8 442M192.8 442L210.8 423.9M201.8 423.5L201.8 442.5M198 414.7L216 432.7M198 432.7L216 414.7M207 414.2L207 433.2M203.2 405.4L221.3 423.5M203.2 423.5L221.3 405.4M212.2 405L212.2 424M208.4 396.2L226.5 414.2M208.4 414.2L226.5 396.2M217.4 395.7L217.4 414.7M213.6 386.9L231.7 405M213.6 405L231.7 386.9M222.6 386.4L222.6 405.4M218.8 377.7L236.9 395.7M218.8 395.7L236.9 377.7M227.8 377.2L227.8 396.2M224 368.4L242.1 386.5M224 386.5L242.1 368.4M233.1 367.9L233.1 386.9M229.2 365.1L247.3 383.1M229.2 383.1L247.3 365.1M238.3 364.6L238.3 383.6M234.4 360.3L252.5 378.4M234.4 378.4L252.5 360.3M243.5 359.9L243.5 378.9M239.6 355.6L257.7 373.7M239.6 373.7L257.7 355.6M248.7 355.1L248.7 374.1M244.9 350.9L262.9 369M244.9 369L262.9 350.9M253.9 350.4L253.9 369.4M250.1 345.6L268.1 363.7M250.1 363.7L268.1 345.6M259.1 345.2L259.1 364.2M255.3 338.1L273.3 356.1M255.3 356.1L273.3 338.1M264.3 337.6L264.3 356.6M260.5 330.5L278.5 348.6M260.5 348.6L278.5 330.5M269.5 330.1L269.5 349.1M265.7 318.1L283.7 336.2M265.7 336.2L283.7 318.1M274.7 317.7L274.7 336.7M270.9 305.2L288.9 323.3M270.9 323.3L288.9 305.2M279.9 304.7L279.9 323.7M276.1 294.6L294.1 312.6M276.1 312.6L294.1 294.6M285.1 294.1L285.1 313.1M281.3 289.2L299.4 307.2M281.3 307.2L299.4 289.2M290.3 288.7L290.3 307.7M289.6 281.1L307.7 299.2M289.6 299.2L307.7 281.1M298.7 280.6L298.7 299.6M298.1 275.4L316.1 293.5M298.1 293.5L316.1 275.4M307.1 274.9L307.1 293.9M306.6 271.2L324.7 289.3M306.6 289.3L324.7 271.2M315.6 270.7L315.6 289.7M315.3 268.4L333.3 286.5M315.3 286.5L333.3 268.4M324.3 267.9L324.3 286.9M324 265.7L342.1 283.7M324 283.7L342.1 265.7M333 265.2L333 284.2M332.9 263.5L351 281.6M332.9 281.6L351 263.5M341.9 263.1L341.9 282.1M341.9 261.4L359.9 279.4M341.9 279.4L359.9 261.4M350.9 260.9L350.9 279.9M350.9 259.7L369 277.8M350.9 277.8L369 259.7M359.9 259.3L359.9 278.3M360.1 258.3L378.2 276.3M360.1 276.3L378.2 258.3M369.2 257.8L369.2 276.8M369.5 257.3L387.5 275.3M369.5 275.3L387.5 257.3M378.5 256.8L378.5 275.8M378.9 256.8L396.9 274.9M378.9 274.9L396.9 256.8M387.9 256.3L387.9 275.3M388.5 256.2L406.5 274.3M388.5 274.3L406.5 256.2M397.5 255.8L397.5 274.8M398.1 255.1L416.1 273.2M398.1 273.2L416.1 255.1M407.1 254.7L407.1 273.7M407.9 253.9L425.9 272M407.9 272L425.9 253.9M416.9 253.5L416.9 272.5M417.8 252.5L435.9 270.6M417.8 270.6L435.9 252.5M426.9 252L426.9 271M427.9 251.1L445.9 269.1M427.9 269.1L445.9 251.1M436.9 250.6L436.9 269.6M438 249.6L456.1 267.6M438 267.6L456.1 249.6M447.1 249.1L447.1 268.1M448.3 248.4L466.3 266.4M448.3 266.4L466.3 248.4M457.3 247.9L457.3 266.9M458.7 247.3L476.8 265.3M458.7 265.3L476.8 247.3M467.7 246.8L467.7 265.8M469.3 246.1L487.3 264.2M469.3 264.2L487.3 246.1M478.3 245.7L478.3 264.7M480 244.7L498 262.7M480 262.7L498 244.7M489 244.2L489 263.2M490.8 242.7L508.8 260.7M490.8 260.7L508.8 242.7M499.8 242.2L499.8 261.2M502.1 240.2L520.1 258.2M502.1 258.2L520.1 240.2M511.1 239.7L511.1 258.7M527.6 239.1L545.6 257.1M527.6 257.1L545.6 239.1M536.6 238.6L536.6 257.6M553.6 235.1L571.7 253.2M553.6 253.2L571.7 235.1M562.7 234.7L562.7 253.7M579.1 232.9L597.2 250.9M579.1 250.9L597.2 232.9M588.2 232.4L588.2 251.4M631.2 230.7L649.3 248.7M631.2 248.7L649.3 230.7M640.2 230.2L640.2 249.2M656.7 230.7L674.8 248.7M656.7 248.7L674.8 230.7M665.8 230.2L665.8 249.2M683.3 229.5L701.3 247.6M683.3 247.6L701.3 229.5M692.3 229.1L692.3 248.1M709.3 228.4L727.4 246.5M709.3 246.5L727.4 228.4M718.3 227.9L718.3 246.9" stroke="#4169b8" stroke-width="1.5" fill="none" stroke-linecap="butt"/>
<path d="M123.7 585.2C124.6 583.6 127.2 579 128.9 575.9C130.6 572.7 132.4 569.6 134.1 566.5C135.9 563.4 137.6 560.3 139.3 557.2C141.1 554.1 142.8 550.9 144.5 547.8C146.3 544.7 148 541.6 149.7 538.5C151.5 535.4 153.2 532.2 154.9 529.1C156.7 526 158.4 522.9 160.2 519.8C161.9 516.7 163.6 513.6 165.4 510.4C167.1 507.3 168.8 504.2 170.6 501.1C172.3 498 174 494.9 175.8 491.8C177.5 488.6 179.2 485.5 181 482.4C182.7 479.3 184.5 476.2 186.2 473.1C187.9 470 189.7 466.8 191.4 463.7C193.1 460.6 194.9 457.5 196.6 454.4C198.3 451.3 200.1 448.2 201.8 445C203.5 441.9 205.3 438.8 207 435.7C208.8 432.6 210.5 429.5 212.2 426.4C214 423.2 215.7 420.1 217.4 417C219.2 413.9 220.9 410.8 222.6 407.7C224.4 404.6 226.1 401.4 227.8 398.3C229.6 395.2 231.3 392.1 233.1 389C234.8 385.9 236.5 382.8 238.3 379.6C240 376.5 241.7 373.4 243.5 370.3C245.2 367.2 246.9 364.1 248.7 360.9C250.4 357.8 252.1 354.7 253.9 351.6C255.6 348.5 257.4 345.4 259.1 342.3C260.8 339.1 262.6 336 264.3 332.9C266 329.8 267.8 326.7 269.5 323.6C271.2 320.5 273 317.3 274.7 314.2C276.4 311.1 278.2 308 279.9 304.9C281.7 301.8 283.4 298.7 285.1 295.5C286.9 292.4 288.6 289.3 290.3 286.2C292.1 283.1 293.8 280 295.5 276.9C297.3 273.7 299 270.6 300.7 267.5C302.5 264.4 304.2 261.3 306 258.2C307.7 255.1 309.4 251.9 311.2 248.8C312.9 245.7 314.6 242.6 316.4 239.5C318.1 236.4 319.8 233.3 321.6 230.1C323.3 227 325 223.9 326.8 220.8C328.5 217.7 330.3 214.6 332 211.5C333.7 208.3 335.5 205.2 337.2 202.1C338.9 199 340.7 195.9 342.4 192.8C344.1 189.6 345.9 186.5 347.6 183.4C349.3 180.3 351.1 177.2 352.8 174.1C354.6 171 356.3 167.8 358 164.7C359.8 161.6 361.5 158.5 363.2 155.4C365 152.3 366.7 149.2 368.4 146C370.2 142.9 371.9 139.8 373.6 136.7C375.4 133.6 377.1 130.5 378.8 127.4C380.6 124.2 382.3 121.1 384.1 118C385.8 114.9 387.5 111.8 389.3 108.7C391 105.6 392.7 102.4 394.5 99.3C396.2 96.2 397.9 93.1 399.7 90C401.4 86.9 403.1 84.2 404.9 80.6C406.6 77.1 408.4 72.1 410.1 68.9C411.8 65.7 413.6 63.6 415.3 61.6C417 59.6 418.8 58.2 420.5 56.9C422.2 55.7 424 55.1 425.7 54.3C427.4 53.4 429.2 52.7 430.9 52.1C432.7 51.5 434.4 51.2 436.1 50.8C437.9 50.4 439.6 49.9 441.3 49.5C443.1 49.1 444.8 48.7 446.5 48.3C448.3 47.9 450 47.5 451.7 47.1C453.5 46.7 455.2 46.3 457 46C458.7 45.6 460.4 45.1 462.2 44.8C463.9 44.5 465.6 44.3 467.4 44.1C469.1 43.8 470.8 43.6 472.6 43.4C474.3 43.1 476 42.9 477.8 42.6C479.5 42.4 481.3 42.2 483 41.9C484.7 41.7 486.5 41.6 488.2 41.4C489.9 41.2 491.7 41.1 493.4 40.9C495.1 40.7 496.9 40.5 498.6 40.3C500.3 40.2 502.1 40 503.8 39.8C505.6 39.6 507.3 39.4 509 39.3C510.8 39.1 512.5 38.9 514.2 38.7C516 38.5 517.7 38.3 519.4 38.2C521.2 38 522.9 37.9 524.6 37.8C526.4 37.7 528.1 37.6 529.9 37.5C531.6 37.4 533.3 37.3 535.1 37.2C536.8 37.1 538.5 37 540.3 36.9C542 36.8 543.7 36.7 545.5 36.6C547.2 36.5 548.9 36.4 550.7 36.3C552.4 36.2 554.2 36.1 555.9 36C557.6 35.9 559.4 35.8 561.1 35.7C562.8 35.6 564.6 35.6 566.3 35.5C568 35.4 569.8 35.3 571.5 35.3C573.2 35.2 575 35.1 576.7 35C578.5 34.9 580.8 34.8 581.9 34.8C583.1 34.7 583.2 34.7 583.5 34.7" stroke="#f2a282" stroke-width="5.2" fill="none"/>
<path d="M122.7 585.2L128.7 585.2M127.9 575.9L133.9 575.9M133.1 566.5L139.1 566.5M138.3 557.2L144.3 557.2M143.5 547.8L149.5 547.8M148.7 538.5L154.7 538.5M153.9 529.1L159.9 529.1M159.2 519.8L165.2 519.8M164.4 510.4L170.4 510.4M169.6 501.1L175.6 501.1M174.8 491.8L180.8 491.8M180 482.4L186 482.4M185.2 473.1L191.2 473.1M190.4 463.7L196.4 463.7M195.6 454.4L201.6 454.4M200.8 445L206.8 445M206 435.7L212 435.7M211.2 426.4L217.2 426.4M216.4 417L222.4 417M221.6 407.7L227.6 407.7M226.8 398.3L232.8 398.3M232.1 389L238.1 389M237.3 379.6L243.3 379.6M242.5 370.3L248.5 370.3M247.7 360.9L253.7 360.9M252.9 351.6L258.9 351.6M258.1 342.3L264.1 342.3M263.3 332.9L269.3 332.9M268.5 323.6L274.5 323.6M273.7 314.2L279.7 314.2M278.9 304.9L284.9 304.9M284.1 295.5L290.1 295.5M289.3 286.2L295.3 286.2M294.5 276.9L300.5 276.9M299.7 267.5L305.7 267.5M305 258.2L311 258.2M310.2 248.8L316.2 248.8M315.4 239.5L321.4 239.5M320.6 230.1L326.6 230.1M325.8 220.8L331.8 220.8M331 211.5L337 211.5M336.2 202.1L342.2 202.1M341.4 192.8L347.4 192.8M346.6 183.4L352.6 183.4M351.8 174.1L357.8 174.1M357 164.7L363 164.7M362.2 155.4L368.2 155.4M367.4 146L373.4 146M372.6 136.7L378.6 136.7M377.8 127.4L383.8 127.4M383.1 118L389.1 118M388.3 108.7L394.3 108.7M393.5 99.3L399.5 99.3M398.7 90L404.7 90M403.9 80.6L409.9 80.6M409.1 68.9L415.1 68.9M414.3 61.6L420.3 61.6M419.5 56.9L425.5 56.9M424.7 54.3L430.7 54.3M429.9 52.1L435.9 52.1M435.1 50.8L441.1 50.8M440.3 49.5L446.3 49.5M445.5 48.3L451.5 48.3M450.7 47.1L456.7 47.1M456 46L462 46M461.2 44.8L467.2 44.8M466.4 44.1L472.4 44.1M471.6 43.4L477.6 43.4M476.8 42.6L482.8 42.6M482 41.9L488 41.9M487.2 41.4L493.2 41.4M492.4 40.9L498.4 40.9M497.6 40.3L503.6 40.3M502.8 39.8L508.8 39.8M508 39.3L514 39.3M513.2 38.7L519.2 38.7M518.4 38.2L524.4 38.2M523.6 37.8L529.6 37.8M528.9 37.5L534.9 37.5M534.1 37.2L540.1 37.2M539.3 36.9L545.3 36.9M544.5 36.6L550.5 36.6M549.7 36.3L555.7 36.3M554.9 36L560.9 36M560.1 35.7L566.1 35.7M565.3 35.5L571.3 35.5M570.5 35.3L576.5 35.3M575.7 35L581.7 35M580.9 34.8L586.9 34.8M582.5 34.7L588.5 34.7" stroke="#f2a282" stroke-width="3" fill="none" stroke-linecap="butt"/>
</g>
<g font-family="Liberation Sans, sans-serif" font-size="28" fill="#000">
<text x="97" y="598.1" text-anchor="end" font-size="29">0</text>
<text x="925.5" y="597.8">0</text>
<text x="97" y="486.1" text-anchor="end" font-size="29">100</text>
<text x="925.5" y="485.8">20</text>
<text x="97" y="374.1" text-anchor="end" font-size="29">200</text>
<text x="925.5" y="373.8">40</text>
<text x="97" y="262.1" text-anchor="end" font-size="29">300</text>
<text x="925.5" y="261.8">60</text>
<text x="97" y="150.1" text-anchor="end" font-size="29">400</text>
<text x="925.5" y="149.8">80</text>
<text x="97" y="38.1" text-anchor="end" font-size="29">500</text>
<text x="925.5" y="37.8">100</text>
<text x="120" y="631" text-anchor="middle">0</text>
<text x="380.3" y="631" text-anchor="middle">50</text>
<text x="640.7" y="631" text-anchor="middle">100</text>
<text x="901" y="631" text-anchor="middle">150</text>
<text x="512.5" y="671" text-anchor="middle">Time (min)</text>
<text transform="translate(34 307) rotate(-90)" text-anchor="middle" textLength="370" lengthAdjust="spacingAndGlyphs">Gas Production Rate (mL/min)</text>
<text transform="translate(1004 325.5) rotate(-90)" text-anchor="middle" textLength="256" lengthAdjust="spacingAndGlyphs">Recovery  Factor (%)</text>
</g>
<text x="714.6" y="729" text-anchor="middle" font-family="Liberation Sans, sans-serif" font-size="42" font-weight="bold">(a)</text>
<rect x="1042" y="41" width="366.5" height="553" fill="none" stroke="#000" stroke-width="2.2"/>
<g font-family="Liberation Sans, sans-serif" font-size="28" fill="#000">
<path d="M1067.5 59.5H1134.5" stroke="#0000ee" stroke-width="4.8" stroke-linecap="round"/>
<circle cx="1100.8" cy="59.5" r="7.3" fill="#0000ee"/>
<text x="1143" y="68.6">1-1 Gas production</text>
<text x="1143" y="100.6">rate</text>
<path d="M1067.5 128.4H1134.5" stroke="#d5702c" stroke-width="4.8" stroke-linecap="round"/>
<rect x="1093.8" y="121.4" width="14" height="14" fill="#d5702c"/>
<text x="1143" y="137.6">1-2 Gas production</text>
<text x="1143" y="169.6">rate</text>
<path d="M1067.5 197.2H1134.5" stroke="#e3aa00" stroke-width="4.8" stroke-linecap="round"/>
<path d="M1093.3 191.2L1108.3 206.2M1093.3 206.2L1108.3 191.2" stroke="#e3aa00" stroke-width="1.8"/>
<text x="1143" y="206.5">1-3 Gas production</text>
<text x="1143" y="238.5">rate</text>
<path d="M1067.5 266.8H1134.5" stroke="#98b6e0" stroke-width="4.8" stroke-linecap="round"/>
<path d="M1092.8 266.8L1108.8 266.8M1100.8 258.8L1100.8 274.8" stroke="#98b6e0" stroke-width="1.8"/>
<text x="1143" y="276.3">4-2 Gas production</text>
<text x="1143" y="308.3">rate</text>
<path d="M1067.5 336.2H1134.5" stroke="#ff0000" stroke-width="4.8" stroke-linecap="round"/>
<path d="M1100.8 329.7L1107.3 336.2L1100.8 342.7L1094.3 336.2Z" fill="#ff0000"/>
<text x="1143" y="345.8">1-1 Recovery factor</text>
<path d="M1067.5 405.3H1134.5" stroke="#999999" stroke-width="4.8" stroke-linecap="round"/>
<path d="M1100.8 398.3L1107.8 410.6L1093.8 410.6Z" fill="#999999"/>
<text x="1143" y="415">1-2 Recovery factor</text>
<path d="M1067.5 474.4H1134.5" stroke="#4169b8" stroke-width="4.8" stroke-linecap="round"/>
<path d="M1091.8 465.4L1109.8 483.4M1091.8 483.4L1109.8 465.4M1100.8 464.9L1100.8 483.9" stroke="#4169b8" stroke-width="1.7"/>
<text x="1143" y="484.2">1-3 Recovery factor</text>
<path d="M1067.5 543.6H1134.5" stroke="#f2a282" stroke-width="4.8" stroke-linecap="round"/>
<path d="M1099.8 543.6L1105.8 543.6" stroke="#f2a282" stroke-width="3"/>
<text x="1143" y="553.5">4-2 Recovery factor</text>
</g>
<g stroke="#000" stroke-width="2.4" fill="none">
<path d="M228.3 779.3H1168.2V1394.5H228.3Z"/>
<path d="M219.3 1394.5H228.3M219.3 1292H228.3M219.3 1189.4H228.3M219.3 1086.9H228.3M219.3 984.4H228.3M219.3 881.8H228.3M219.3 779.3H228.3M1168.2 1394.5H1176.7M1168.2 1189.4H1176.7M1168.2 984.4H1176.7M1168.2 779.3H1176.7M228.3 1394.5V1403.5M362.4 1394.5V1403.5M496.5 1394.5V1403.5M630.6 1394.5V1403.5M764.7 1394.5V1403.5M898.8 1394.5V1403.5M1032.9 1394.5V1403.5M1167 1394.5V1403.5"/>
</g>
<g stroke-linejoin="round" stroke-linecap="round" fill="none">
<path d="M372.5 1085.7C375 1099.4 382.9 1168.3 387.5 1168.3C392.2 1166.6 396.3 1098.5 400.6 1075.2C404.9 1051.9 408.9 1028.7 413.4 1028.7C417.8 1029.1 423.6 1077.7 427.1 1077.7C430.6 1051.3 431.9 870.3 434.1 870.3C436.4 877.9 438.7 1085.6 440.8 1123.2C443 1123.2 444.8 1096.1 446.9 1096.1C449 1102 451.8 1146.5 453.6 1158.7C455.4 1168.9 456.3 1168.9 457.6 1168.9C459 1151.2 459.7 1064.2 461.6 1052.2C463.5 1052.2 466.9 1084.5 469 1097.1C471.1 1109.8 472.1 1116.3 474.4 1127.9C476.6 1139.5 479.2 1154.3 482.4 1166.9C485.7 1179.4 489.8 1199.9 493.8 1203.4C497.8 1203.4 502 1187.6 506.6 1187.6C511.1 1191 516.7 1208.3 521.3 1224.1C525.9 1239.9 529.7 1282.3 534.4 1282.3C539.1 1281.8 545.1 1221.2 549.5 1221C553.9 1221 556.5 1261.7 560.9 1281.3C565.2 1300.9 570.8 1338.7 575.6 1338.7C580.4 1338.6 585.7 1290.2 589.7 1280.5C593.7 1280.5 595.5 1280.5 599.8 1280.5C604 1286.4 610.3 1312.3 615.2 1316C620.1 1316 624.7 1302.2 629.3 1302.2C633.8 1306.2 638.2 1337.8 642.7 1339.7C647.1 1339.7 651.7 1316.2 656.1 1313.9C660.4 1313.9 664.5 1325.8 668.8 1325.8C673.2 1323.7 678 1301.2 682.2 1301.2C686.5 1305.3 686.6 1344.1 694.3 1350.6C702 1350.6 717.2 1340.7 728.5 1340.4C739.8 1340.4 750.6 1348.2 762 1348.8C773.4 1348.8 785.3 1345.1 796.9 1344.1C808.5 1343 820.1 1343.1 831.5 1342.2C842.9 1341.3 854.3 1338.7 865.3 1338.7C876.3 1338.7 886.6 1338.7 897.5 1342.2C908.3 1348.3 919.1 1367.3 930.3 1375.2C941.5 1383.2 953.2 1390 964.5 1390C975.8 1389.4 992.4 1374.6 998 1371.5" stroke="#0000ff" stroke-width="6.6" fill="none"/>
<path d="M372.5 1076.7L381.5 1085.7L372.5 1094.7L363.5 1085.7Z" fill="#0000ff"/><path d="M387.5 1159.3L396.5 1168.3L387.5 1177.3L378.5 1168.3Z" fill="#0000ff"/><path d="M400.6 1066.2L409.6 1075.2L400.6 1084.2L391.6 1075.2Z" fill="#0000ff"/><path d="M413.4 1019.7L422.4 1028.7L413.4 1037.7L404.4 1028.7Z" fill="#0000ff"/><path d="M427.1 1068.7L436.1 1077.7L427.1 1086.7L418.1 1077.7Z" fill="#0000ff"/><path d="M434.1 861.3L443.1 870.3L434.1 879.3L425.1 870.3Z" fill="#0000ff"/><path d="M440.8 1114.2L449.8 1123.2L440.8 1132.2L431.8 1123.2Z" fill="#0000ff"/><path d="M446.9 1087.1L455.9 1096.1L446.9 1105.1L437.9 1096.1Z" fill="#0000ff"/><path d="M453.6 1149.7L462.6 1158.7L453.6 1167.7L444.6 1158.7Z" fill="#0000ff"/><path d="M457.6 1159.9L466.6 1168.9L457.6 1177.9L448.6 1168.9Z" fill="#0000ff"/><path d="M461.6 1043.2L470.6 1052.2L461.6 1061.2L452.6 1052.2Z" fill="#0000ff"/><path d="M469 1088.1L478 1097.1L469 1106.1L460 1097.1Z" fill="#0000ff"/><path d="M474.4 1118.9L483.4 1127.9L474.4 1136.9L465.4 1127.9Z" fill="#0000ff"/><path d="M482.4 1157.9L491.4 1166.9L482.4 1175.9L473.4 1166.9Z" fill="#0000ff"/><path d="M493.8 1194.4L502.8 1203.4L493.8 1212.4L484.8 1203.4Z" fill="#0000ff"/><path d="M506.6 1178.6L515.6 1187.6L506.6 1196.6L497.6 1187.6Z" fill="#0000ff"/><path d="M521.3 1215.1L530.3 1224.1L521.3 1233.1L512.3 1224.1Z" fill="#0000ff"/><path d="M534.4 1273.3L543.4 1282.3L534.4 1291.3L525.4 1282.3Z" fill="#0000ff"/><path d="M549.5 1212L558.5 1221L549.5 1230L540.5 1221Z" fill="#0000ff"/><path d="M560.9 1272.3L569.9 1281.3L560.9 1290.3L551.9 1281.3Z" fill="#0000ff"/><path d="M575.6 1329.7L584.6 1338.7L575.6 1347.7L566.6 1338.7Z" fill="#0000ff"/><path d="M589.7 1271.5L598.7 1280.5L589.7 1289.5L580.7 1280.5Z" fill="#0000ff"/><path d="M599.8 1271.5L608.8 1280.5L599.8 1289.5L590.8 1280.5Z" fill="#0000ff"/><path d="M615.2 1307L624.2 1316L615.2 1325L606.2 1316Z" fill="#0000ff"/><path d="M629.3 1293.2L638.3 1302.2L629.3 1311.2L620.3 1302.2Z" fill="#0000ff"/><path d="M642.7 1330.7L651.7 1339.7L642.7 1348.7L633.7 1339.7Z" fill="#0000ff"/><path d="M656.1 1304.9L665.1 1313.9L656.1 1322.9L647.1 1313.9Z" fill="#0000ff"/><path d="M668.8 1316.8L677.8 1325.8L668.8 1334.8L659.8 1325.8Z" fill="#0000ff"/><path d="M682.2 1292.2L691.2 1301.2L682.2 1310.2L673.2 1301.2Z" fill="#0000ff"/><path d="M694.3 1341.6L703.3 1350.6L694.3 1359.6L685.3 1350.6Z" fill="#0000ff"/><path d="M728.5 1331.4L737.5 1340.4L728.5 1349.4L719.5 1340.4Z" fill="#0000ff"/><path d="M762 1339.8L771 1348.8L762 1357.8L753 1348.8Z" fill="#0000ff"/><path d="M796.9 1335.1L805.9 1344.1L796.9 1353.1L787.9 1344.1Z" fill="#0000ff"/><path d="M831.5 1333.2L840.5 1342.2L831.5 1351.2L822.5 1342.2Z" fill="#0000ff"/><path d="M897.5 1333.2L906.5 1342.2L897.5 1351.2L888.5 1342.2Z" fill="#0000ff"/><path d="M930.3 1366.2L939.3 1375.2L930.3 1384.2L921.3 1375.2Z" fill="#0000ff"/><path d="M964.5 1381L973.5 1390L964.5 1399L955.5 1390Z" fill="#0000ff"/><path d="M998 1362.5L1007 1371.5L998 1380.5L989 1371.5Z" fill="#0000ff"/>
<path d="M371.8 1359.9C374.2 1356.3 382.1 1347.2 386.5 1337.8C391 1328.4 394.4 1315.1 398.6 1303.5C402.9 1291.8 407.5 1275.3 412 1267.7C416.5 1260.1 421.9 1269.2 425.4 1257.9C429 1246.7 431.1 1212.5 433.5 1200.2C435.8 1187.9 437.3 1189.7 439.5 1184.2C441.7 1178.7 444.5 1171.5 446.9 1167C449.2 1162.5 451.4 1161.3 453.6 1157.2C455.8 1153.2 458.4 1147.4 460.3 1142.5C462.2 1137.6 463 1132.2 465 1127.7C467 1123.2 469.9 1120 472.4 1115.5C474.8 1111 476.5 1106.1 479.7 1100.8C483 1095.4 487.4 1090.1 491.8 1083.5C496.2 1077 501.1 1067.8 505.9 1061.4C510.7 1054.9 516.1 1049.2 520.6 1044.9C525.2 1040.6 528.9 1040.1 533.4 1035.6C537.8 1031.2 542.8 1023.5 547.5 1018.2C552.2 1012.9 557.2 1006.6 561.5 1003.9C565.9 1001.1 569.2 1004.4 573.6 1001.8C578 999.2 583 992.6 587.7 988.5C592.4 984.4 597.1 980.4 601.8 977.2C606.5 974 611.2 971.9 615.8 969C620.5 966.1 625.2 962.2 629.9 959.8C634.6 957.4 639.7 956.9 644 954.6C648.4 952.4 651.9 948.8 656.1 946.4C660.2 944.1 664.3 942.7 668.8 940.3C673.3 937.9 678.8 934.3 682.9 932.1C687 929.9 686.3 930.2 693.6 927C701 923.7 715.8 916.9 727.2 912.6C738.6 908.3 750.6 905.4 762 901.3C773.4 897.2 784.4 891.2 795.5 888C806.7 884.8 812.3 885.3 829.1 882.4C845.8 879.5 879.4 873.4 896.1 870.6C912.9 867.8 918.5 866.5 929.6 865.4C940.8 864.4 957.6 864.6 963.2 864.4" stroke="#7030a0" stroke-width="5.5" fill="none"/>
<rect x="364.3" y="1352.4" width="15" height="15" fill="#7030a0"/><rect x="379" y="1330.3" width="15" height="15" fill="#7030a0"/><rect x="391.1" y="1296" width="15" height="15" fill="#7030a0"/><rect x="404.5" y="1260.2" width="15" height="15" fill="#7030a0"/><rect x="417.9" y="1250.4" width="15" height="15" fill="#7030a0"/><rect x="426" y="1192.7" width="15" height="15" fill="#7030a0"/><rect x="432" y="1176.7" width="15" height="15" fill="#7030a0"/><rect x="439.4" y="1159.5" width="15" height="15" fill="#7030a0"/><rect x="446.1" y="1149.7" width="15" height="15" fill="#7030a0"/><rect x="452.8" y="1135" width="15" height="15" fill="#7030a0"/><rect x="457.5" y="1120.2" width="15" height="15" fill="#7030a0"/><rect x="464.9" y="1108" width="15" height="15" fill="#7030a0"/><rect x="472.2" y="1093.3" width="15" height="15" fill="#7030a0"/><rect x="484.3" y="1076" width="15" height="15" fill="#7030a0"/><rect x="498.4" y="1053.9" width="15" height="15" fill="#7030a0"/><rect x="513.1" y="1037.4" width="15" height="15" fill="#7030a0"/><rect x="525.9" y="1028.1" width="15" height="15" fill="#7030a0"/><rect x="540" y="1010.7" width="15" height="15" fill="#7030a0"/><rect x="554" y="996.4" width="15" height="15" fill="#7030a0"/><rect x="566.1" y="994.3" width="15" height="15" fill="#7030a0"/><rect x="580.2" y="981" width="15" height="15" fill="#7030a0"/><rect x="594.3" y="969.7" width="15" height="15" fill="#7030a0"/><rect x="608.3" y="961.5" width="15" height="15" fill="#7030a0"/><rect x="622.4" y="952.3" width="15" height="15" fill="#7030a0"/><rect x="636.5" y="947.1" width="15" height="15" fill="#7030a0"/><rect x="648.6" y="938.9" width="15" height="15" fill="#7030a0"/><rect x="661.3" y="932.8" width="15" height="15" fill="#7030a0"/><rect x="675.4" y="924.6" width="15" height="15" fill="#7030a0"/><rect x="686.1" y="919.5" width="15" height="15" fill="#7030a0"/><rect x="719.7" y="905.1" width="15" height="15" fill="#7030a0"/><rect x="754.5" y="893.8" width="15" height="15" fill="#7030a0"/><rect x="788" y="880.5" width="15" height="15" fill="#7030a0"/><rect x="821.6" y="874.9" width="15" height="15" fill="#7030a0"/><rect x="888.6" y="863.1" width="15" height="15" fill="#7030a0"/><rect x="922.1" y="857.9" width="15" height="15" fill="#7030a0"/><rect x="955.7" y="856.9" width="15" height="15" fill="#7030a0"/>
</g>
<g font-family="Liberation Sans, sans-serif" font-size="28" fill="#000">
<text x="203.3" y="1404.3" text-anchor="end">0</text>
<text x="203.3" y="1301.8" text-anchor="end">0.5</text>
<text x="203.3" y="1199.2" text-anchor="end">1</text>
<text x="203.3" y="1096.7" text-anchor="end">1.5</text>
<text x="203.3" y="994.2" text-anchor="end">2</text>
<text x="203.3" y="891.6" text-anchor="end">2.5</text>
<text x="203.3" y="789.1" text-anchor="end">3</text>
<text x="1192.5" y="1404.3">0</text>
<text x="1192.5" y="1199.2">20</text>
<text x="1192.5" y="994.2">40</text>
<text x="1192.5" y="789.1">60</text>
<text x="225" y="1437.5" text-anchor="middle">0</text>
<text x="359.1" y="1437.5" text-anchor="middle">20</text>
<text x="493.2" y="1437.5" text-anchor="middle">40</text>
<text x="627.3" y="1437.5" text-anchor="middle">60</text>
<text x="761.4" y="1437.5" text-anchor="middle">80</text>
<text x="895.5" y="1437.5" text-anchor="middle">100</text>
<text x="1029.6" y="1437.5" text-anchor="middle">120</text>
<text x="1163.7" y="1437.5" text-anchor="middle">140</text>
<text x="689.5" y="1476.5" text-anchor="middle">Time (min)</text>
<text transform="translate(144 1090.5) rotate(-90)" text-anchor="middle" textLength="394" lengthAdjust="spacingAndGlyphs">Water Production Rate (mL/min)</text>
<text transform="translate(1263.7 1082) rotate(-90)" text-anchor="middle" textLength="422" lengthAdjust="spacingAndGlyphs">Cumulative  Water Production (mL)</text>
</g>
<text x="715.6" y="1531.5" text-anchor="middle" font-family="Liberation Sans, sans-serif" font-size="42" font-weight="bold">(b)</text>
<rect x="613" y="1050.5" width="519.5" height="138" fill="none" stroke="#000" stroke-width="2.2"/>
<path d="M660 1085.3H727" stroke="#0000ff" stroke-width="7" stroke-linecap="round"/>
<path d="M692.5 1078L699.8 1085.3L692.5 1092.6L685.2 1085.3Z" fill="#0000ff"/>
<path d="M660 1154.2H727" stroke="#7030a0" stroke-width="7" stroke-linecap="round"/>
<rect x="685" y="1146.7" width="15" height="15" fill="#7030a0"/>
<g font-family="Liberation Sans, sans-serif" font-size="28" fill="#000">
<text x="735.5" y="1095">Water production rate</text>
<text x="735.5" y="1163.6">Cumulative water production</text>
</g>
</svg>
</body></html>
